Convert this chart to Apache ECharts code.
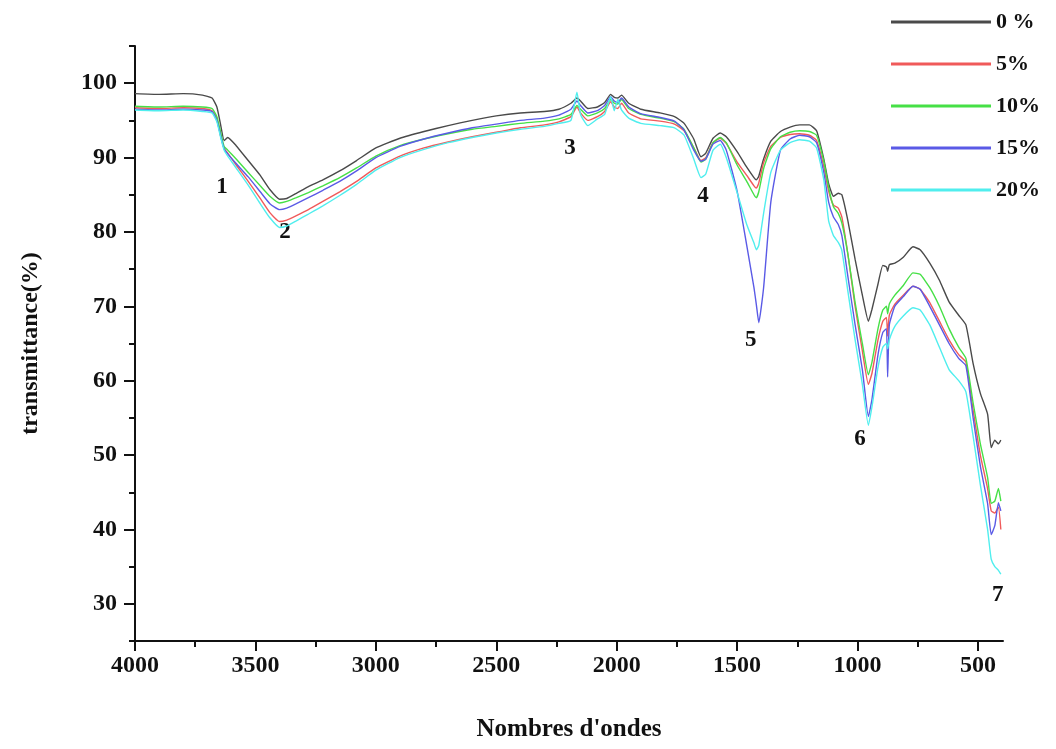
<!DOCTYPE html>
<html>
<head>
<meta charset="utf-8">
<script src="https://cdn.jsdelivr.net/npm/echarts@6/dist/echarts.min.js"></script>
<style>
  html, body { margin: 0; padding: 0; background: #fff; }
  #chart { width: 1056px; height: 749px; }
</style>
</head>
<body>
<div id="chart"></div>
<script>
// FTIR spectra: transmittance (%) versus wavenumber (cm-1) for five loadings
const wavenumbers = [
  4000, 3900, 3800, 3720, 3680, 3660, 3645, 3630, 3615, 3580,
  3530, 3480, 3440, 3400, 3370, 3330, 3280, 3220, 3150, 3080,
  3000, 2900, 2800, 2700, 2600, 2500, 2400, 2300, 2240, 2190,
  2165, 2150, 2120, 2080, 2050, 2025, 2010, 1995, 1980, 1950,
  1900, 1820, 1760, 1720, 1680, 1650, 1630, 1600, 1570, 1545,
  1500, 1460, 1430, 1420, 1410, 1390, 1360, 1320, 1280, 1240,
  1200, 1170, 1140, 1120, 1100, 1080, 1065, 1040, 1010, 980,
  955, 940, 915, 895, 880, 875, 868, 845, 810, 770,
  740, 700, 660, 620, 580, 550, 520, 490, 460, 445,
  430, 415, 405
];

const t0 = [
  98.6, 98.5, 98.6, 98.4, 98.0, 96.8, 94.5, 92.3, 92.7, 91.6,
  89.6, 87.6, 85.7, 84.4, 84.5, 85.2, 86.1, 87.0, 88.2, 89.6,
  91.3, 92.6, 93.5, 94.3, 95.0, 95.6, 96.0, 96.2, 96.5, 97.3,
  98.0, 97.6, 96.6, 96.8, 97.4, 98.5, 98.1, 98.0, 98.4, 97.3,
  96.5, 96.0, 95.5, 94.6, 92.5, 90.1, 90.6, 92.6, 93.3, 92.8,
  90.8, 88.7, 87.3, 87.0, 87.5, 89.8, 92.2, 93.5, 94.1, 94.4,
  94.4, 93.6, 89.8, 86.5, 84.8, 85.2, 85.0, 81.5, 76.3, 71.5,
  68.0, 69.6, 73.0, 75.5, 75.3, 74.7, 75.6, 75.8, 76.6, 78.0,
  77.6, 75.8, 73.5, 70.6, 68.8, 67.5, 62.3, 58.3, 55.5, 51.0,
  52.0, 51.5, 52.0
];

const t5 = [
  96.7, 96.6, 96.7, 96.6, 96.3, 95.2, 93.0, 91.2, 90.6, 89.0,
  86.8, 84.5, 82.6, 81.4, 81.6, 82.2, 83.0, 84.1, 85.4, 86.8,
  88.6, 90.2, 91.3, 92.1, 92.8, 93.4, 94.0, 94.4, 94.8, 95.5,
  96.8, 96.0, 95.0, 95.5, 96.2, 97.5, 96.8, 96.6, 97.3, 96.0,
  95.2, 94.9, 94.5, 93.6, 91.3, 89.6, 90.0, 92.0, 92.6, 91.9,
  89.4, 87.6, 86.2, 85.9, 86.6, 89.3, 91.5, 92.7, 93.1, 93.2,
  93.0, 92.3, 88.8, 85.5, 83.6, 83.2, 82.0, 77.0, 70.0, 64.0,
  59.5, 61.0, 65.5, 68.0, 68.5, 66.0, 68.8, 70.3, 71.5, 72.7,
  72.3, 70.5, 68.0, 65.5, 63.5, 62.5, 56.0, 50.0, 45.5, 42.5,
  42.2, 43.0, 40.0
];

const t10 = [
  96.9, 96.8, 96.9, 96.8, 96.6, 95.5, 93.5, 91.5, 91.0, 89.8,
  88.0, 86.2, 84.8, 83.9, 84.1, 84.6, 85.3, 86.2, 87.3, 88.6,
  90.2, 91.6, 92.5, 93.2, 93.8, 94.2, 94.6, 94.9, 95.2, 95.8,
  97.0, 96.5, 95.6, 96.0, 96.6, 97.8, 97.3, 97.2, 97.8, 96.6,
  95.8, 95.3, 94.8, 93.8, 91.3, 89.4, 89.8, 92.0, 92.7, 92.0,
  89.0, 86.8, 85.0, 84.6, 85.4, 88.5, 91.2, 92.8, 93.4, 93.6,
  93.5, 93.0, 89.5, 86.0, 83.4, 82.5, 81.2, 77.0, 70.5, 65.0,
  60.8, 62.5, 67.0, 69.5, 70.0, 69.0, 70.3, 71.5, 72.8, 74.5,
  74.3, 72.5, 70.0, 67.0, 64.5, 63.0, 57.0, 51.5, 47.0, 43.5,
  43.8, 45.5, 43.8
];

const t15 = [
  96.5, 96.4, 96.5, 96.4, 96.2, 95.0, 93.0, 91.2, 90.5, 89.2,
  87.4, 85.4, 83.8, 83.0, 83.2, 83.8, 84.6, 85.6, 86.8, 88.2,
  90.0, 91.5, 92.5, 93.3, 94.0, 94.5, 95.0, 95.3, 95.7, 96.5,
  97.6, 97.0, 96.0, 96.3, 97.0, 98.2, 97.6, 97.4, 98.0, 96.8,
  95.9, 95.4, 94.9, 93.7, 91.0, 89.5, 89.8, 91.8, 92.3, 91.0,
  85.5, 78.2, 72.5, 70.2, 67.8, 72.5, 84.0, 91.0, 92.5, 93.0,
  92.8, 92.0, 88.0, 84.0, 82.0, 81.0, 79.5, 74.0, 67.5, 61.5,
  55.2, 57.5, 63.5, 66.5, 67.0, 60.5, 67.5, 70.0, 71.3, 72.7,
  72.3, 70.0, 67.5, 65.0, 63.0, 62.0, 55.0, 48.5, 43.5, 39.3,
  40.5, 43.6, 42.5
];

const t20 = [
  96.4, 96.3, 96.4, 96.2, 96.0, 94.8, 92.8, 91.0, 90.2, 88.6,
  86.3, 83.8, 81.9, 80.6, 80.8, 81.5, 82.4, 83.5, 84.9, 86.4,
  88.3, 90.0, 91.1, 92.0, 92.7, 93.3, 93.8, 94.2, 94.6, 95.0,
  98.8, 95.8, 94.3, 95.2, 95.8, 98.2, 96.3, 97.8, 96.4, 95.3,
  94.6, 94.3, 94.0, 93.0, 89.8, 87.3, 87.8, 91.0, 91.8, 90.0,
  85.3, 81.0, 78.5, 77.6, 78.2, 82.5, 88.0, 91.0, 92.0, 92.4,
  92.2, 91.3, 87.0, 81.5, 79.5, 78.6, 77.5, 72.0, 65.5, 59.5,
  54.0, 56.5, 61.8, 64.5, 65.0, 64.3, 65.5, 67.3, 68.7, 69.8,
  69.5, 67.5, 64.5, 61.5, 60.0, 58.5, 52.5, 46.0, 40.0, 36.0,
  35.0, 34.5, 34.0
];

const seriesNames = ['0 %', '5%', '10%', '15%', '20%'];
const seriesColors = ['#4a4a4a', '#f05a5a', '#46e046', '#5a5ae6', '#50eeee'];
const seriesValues = [t0, t5, t10, t15, t20];

// numbered absorption bands
const bandLabels = ['1', '2', '3', '4', '5', '6', '7'];
const bandWavenumbers = [3639, 3377, 2194, 1642, 1443, 990, 418];
const bandValues = [86.1, 80.0, 91.3, 84.8, 65.5, 52.1, 31.2];

const xMajorTicks = [4000, 3500, 3000, 2500, 2000, 1500, 1000, 500];
const xMinorTicks = [3750, 3250, 2750, 2250, 1750, 1250, 750];
const yMajorTicks = [30, 40, 50, 60, 70, 80, 90, 100];
const yMinorTicks = [25, 35, 45, 55, 65, 75, 85, 95, 105];

const FONT = "'Liberation Serif', 'Times New Roman', serif";
const ink = '#111';

const chart = echarts.init(document.getElementById('chart'), null, { renderer: 'canvas' });

const lineSeries = seriesNames.map((name, k) => ({
  name: name,
  type: 'line',
  xAxisIndex: 0,
  yAxisIndex: 0,
  symbol: 'none',
  showSymbol: false,
  smooth: 0.15,
  color: seriesColors[k],
  lineStyle: { width: 1.4, color: seriesColors[k] },
  data: wavenumbers.map((w, i) => [w, seriesValues[k][i]])
}));

const bandSeries = {
  name: 'bands',
  type: 'scatter',
  xAxisIndex: 0,
  yAxisIndex: 0,
  symbolSize: 1,
  silent: true,
  itemStyle: { color: 'rgba(0,0,0,0)' },
  label: {
    show: true,
    position: 'inside',
    formatter: p => p.name,
    fontFamily: FONT,
    fontWeight: 'bold',
    fontSize: 23,
    color: ink,
    opacity: 1,
    textBorderWidth: 0,
    textBorderColor: 'transparent'
  },
  data: bandLabels.map((t, i) => ({ name: t, value: [bandWavenumbers[i], bandValues[i]] }))
};

const axisLineStyle = { color: ink, width: 2 };
const xRange = { min: 396, max: 4000 };
const yRange = { min: 25, max: 105 };
const plain = v => String(v);

chart.setOption({
  animation: false,
  backgroundColor: '#fff',
  grid: { left: 135, right: 53, top: 46, bottom: 108 },
  legend: {
    data: seriesNames,
    orient: 'vertical',
    left: 886,
    top: 6,
    icon: 'rect',
    itemWidth: 100,
    itemHeight: 3,
    itemGap: 20,
    textStyle: { fontFamily: FONT, fontWeight: 'bold', fontSize: 22, color: ink }
  },
  xAxis: [
    {
      type: 'value', inverse: true, ...xRange, position: 'bottom',
      name: "Nombres d'ondes", nameLocation: 'middle', nameGap: 76,
      nameTextStyle: { fontFamily: FONT, fontWeight: 'bold', fontSize: 25, color: ink },
      axisLine: { show: true, lineStyle: axisLineStyle },
      axisTick: { show: true, customValues: xMajorTicks, length: 10, lineStyle: axisLineStyle },
      axisLabel: { customValues: xMajorTicks, formatter: plain, margin: 13, fontFamily: FONT, fontWeight: 'bold', fontSize: 24, color: ink },
      splitLine: { show: false }
    },
    {
      type: 'value', inverse: true, ...xRange, position: 'bottom',
      axisLine: { show: false },
      axisTick: { show: true, customValues: xMinorTicks, length: 6, lineStyle: axisLineStyle },
      axisLabel: { show: false },
      splitLine: { show: false }
    }
  ],
  yAxis: [
    {
      type: 'value', ...yRange, position: 'left',
      name: 'transmittance(%)', nameLocation: 'middle', nameGap: 92, nameRotate: 90,
      nameTextStyle: { fontFamily: FONT, fontWeight: 'bold', fontSize: 24, color: ink },
      axisLine: { show: true, lineStyle: axisLineStyle },
      axisTick: { show: true, customValues: yMajorTicks, length: 11, lineStyle: axisLineStyle },
      axisLabel: { customValues: yMajorTicks, formatter: plain, margin: 18, fontFamily: FONT, fontWeight: 'bold', fontSize: 24, color: ink },
      splitLine: { show: false }
    },
    {
      type: 'value', ...yRange, position: 'left',
      axisLine: { show: false },
      axisTick: { show: true, customValues: yMinorTicks, length: 6, lineStyle: axisLineStyle },
      axisLabel: { show: false },
      splitLine: { show: false }
    }
  ],
  series: [...lineSeries, bandSeries]
});
</script>
</body>
</html>
